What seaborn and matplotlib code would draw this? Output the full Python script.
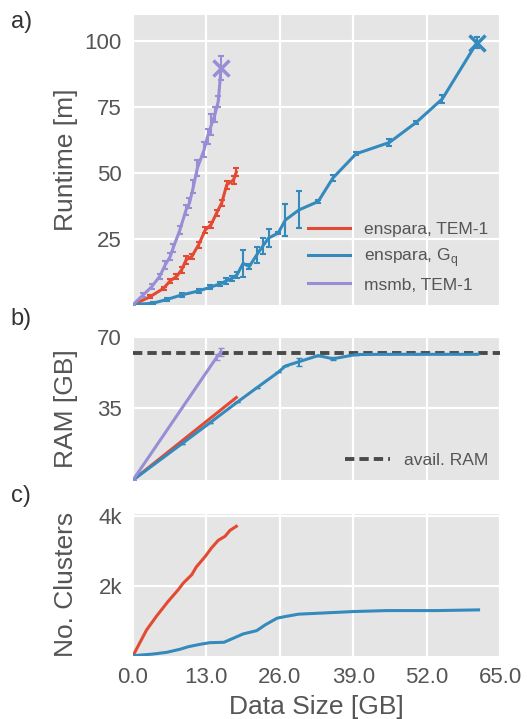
import pandas as pd
import seaborn as sns
import matplotlib.pyplot as plt
from matplotlib.ticker import FuncFormatter

# ---- runtime data (minutes) ----
tem_size = [0.0, 3.0, 5.4, 6.6, 7.7, 8.6, 9.4, 10.4, 11.6, 12.8, 13.8, 14.8, 15.7, 16.6, 17.8, 18.3]
tem_time = [0.0, 3.0, 6.2, 9.1, 10.7, 13.2, 17.0, 18.3, 22.7, 28.4, 30.3, 34.8, 38.6, 45.5, 47.4, 50.4]
tem_err = [0.0, 0.5, 0.6, 0.8, 0.8, 1.0, 1.5, 1.0, 1.2, 1.0, 1.0, 1.2, 1.2, 1.5, 1.5, 1.5]

gq_size = [0.0, 3.6, 6.0, 8.6, 11.6, 13.6, 15.4, 16.5, 17.5, 18.4, 19.5, 20.6, 21.9, 23.0, 24.0,
           25.7, 27.0, 29.4, 32.8, 35.4, 39.5, 45.4, 50.2, 54.8, 60.9]
gq_time = [0.0, 0.6, 2.0, 3.7, 5.2, 6.6, 7.9, 9.0, 10.0, 11.3, 15.7, 14.5, 18.9, 22.3, 25.3,
           27.2, 32.2, 36.0, 39.2, 48.1, 57.3, 61.6, 69.3, 78.2, 99.5]
gq_err = [0.0, 0.3, 0.5, 0.8, 0.8, 0.8, 0.8, 1.0, 1.0, 1.2, 5.0, 1.0, 3.0, 3.0, 3.5,
          0.5, 6.0, 7.0, 0.5, 1.0, 0.5, 1.5, 0.5, 1.5, 2.0]

msmb_size = [0.0, 1.8, 3.3, 4.7, 5.7, 6.6, 7.1, 8.3, 9.4, 10.0, 10.7, 11.4, 12.6, 13.2, 13.9,
             14.5, 15.1, 15.6]
msmb_time = [0.0, 3.7, 6.8, 10.7, 15.1, 18.3, 21.5, 28.4, 36.0, 38.6, 44.9, 51.9, 58.9, 63.9,
             68.4, 72.2, 77.2, 90.0]
msmb_err = [0.0, 0.8, 1.0, 1.0, 1.5, 1.5, 1.5, 1.5, 2.0, 2.0, 2.5, 3.0, 3.0, 3.0, 4.0,
            3.0, 2.0, 4.5]

# ---- RAM (GB) ----
tem_ram_size = [0.0, 9.4, 18.3]
tem_ram = [0.0, 20.7, 40.3]

gq_ram_size = [0.0, 8.6, 13.6, 18.4, 21.9, 25.7, 27.0, 29.4, 32.8, 35.4, 39.5, 45.4, 50.2, 54.8, 60.9]
gq_ram = [0.0, 17.6, 27.9, 37.9, 45.0, 52.6, 55.7, 57.8, 60.8, 59.2, 61.3, 61.4, 61.4, 61.4, 61.4]
gq_ram_err = [0, 0, 0, 0, 0, 0, 0, 2.0, 0, 0.8, 0, 0, 0, 0, 0]

msmb_ram_size = [0.0, 14.8, 15.6]
msmb_ram = [0.0, 59.9, 62.6]
msmb_ram_err = [0.0, 1.5, 2.0]

avail_ram = 62.0

# ---- number of clusters ----
tem_clu_size = [0.0, 2.4, 4.2, 6.2, 8.0, 8.9, 10.4, 11.2, 12.8, 13.9, 15.1, 16.3, 17.2, 18.3]
tem_clu = [0, 737, 1139, 1550, 1885, 2077, 2316, 2536, 2841, 3082, 3300, 3415, 3587, 3701]

gq_clu_size = [0.0, 3.6, 6.0, 8.3, 9.8, 11.9, 13.6, 16.1, 18.4, 19.5, 21.9, 23.4, 25.5, 26.9,
               29.3, 39.0, 44.9, 53.8, 61.2]
gq_clu = [0, 49, 98, 184, 258, 327, 373, 384, 545, 623, 717, 881, 1073, 1119,
          1188, 1263, 1291, 1291, 1311]

red = "#E24A33"
blue = "#348ABD"
purple = "#988ED5"
grey = "#555555"

plt.style.use("ggplot")
plt.rcParams["font.family"] = ["Liberation Sans", "DejaVu Sans"]
plt.rcParams["axes.grid"] = True
plt.rcParams["grid.linewidth"] = 1.6
plt.rcParams["grid.color"] = "white"

fig = plt.figure(figsize=(5.27, 7.19), dpi=100)
left, width = 0.2524, 0.6964
ax1 = fig.add_axes([left, 0.5762, width, 0.4029])
ax2 = fig.add_axes([left, 0.3324, width, 0.1993])
ax3 = fig.add_axes([left, 0.0880, width, 0.1970])

# a) runtime
for xs, ys, es, c, lab in [(tem_size, tem_time, tem_err, red, "enspara, TEM-1"),
                           (gq_size, gq_time, gq_err, blue, "enspara, G$_\\mathregular{q}$"),
                           (msmb_size, msmb_time, msmb_err, purple, "msmb, TEM-1")]:
    df = pd.DataFrame({"size": xs, "time": ys})
    sns.lineplot(data=df, x="size", y="time", ax=ax1, color=c, lw=2.2, label=lab)
    ax1.errorbar(xs, ys, yerr=es, fmt="none", ecolor=c, elinewidth=1.5, capsize=2.5, capthick=1.5)
# crashed runs marked with an x
ax1.plot(msmb_size[-1], msmb_time[-1], marker="x", ms=11, mew=2.5, color=purple)
ax1.plot(gq_size[-1], gq_time[-1], marker="x", ms=11, mew=2.5, color=blue)

ax1.set_ylim(0, 110)
ax1.set_yticks([25, 50, 75, 100])
ax1.set_ylabel("Runtime [m]")
leg = ax1.legend(loc="lower right", frameon=False, fontsize=12.5, handlelength=2.4,
                 labelspacing=0.5, borderaxespad=0.3)
for t in leg.get_texts():
    t.set_color(grey)

# b) RAM
ax2.axhline(avail_ram, color="#4a4a4a", ls="--", lw=2.8, dashes=(2.4, 1.3), label="avail. RAM", zorder=1)
sns.lineplot(x=tem_ram_size, y=tem_ram, ax=ax2, color=red, lw=2.2)
sns.lineplot(x=gq_ram_size, y=gq_ram, ax=ax2, color=blue, lw=2.2)
sns.lineplot(x=msmb_ram_size, y=msmb_ram, ax=ax2, color=purple, lw=2.2)
ax2.errorbar(gq_ram_size, gq_ram, yerr=gq_ram_err, fmt="none", ecolor=blue, elinewidth=1.5, capsize=2.5)
ax2.errorbar(msmb_ram_size, msmb_ram, yerr=msmb_ram_err, fmt="none", ecolor=purple, elinewidth=1.5, capsize=2.5)
ax2.set_ylim(0, 70)
ax2.set_yticks([35, 70])
ax2.set_ylabel("RAM [GB]")
leg2 = ax2.legend(loc="lower right", frameon=False, fontsize=12.5, handlelength=2.6, borderaxespad=0.3)
for t in leg2.get_texts():
    t.set_color(grey)

# c) clusters
sns.lineplot(x=tem_clu_size, y=tem_clu, ax=ax3, color=red, lw=2.2)
sns.lineplot(x=gq_clu_size, y=gq_clu, ax=ax3, color=blue, lw=2.2)
ax3.set_ylim(0, 4050)
ax3.set_yticks([2000, 4000])
ax3.yaxis.set_major_formatter(FuncFormatter(lambda v, p: "%dk" % (v / 1000)))
ax3.set_ylabel("No. Clusters")
ax3.set_xlabel("Data Size [GB]", fontsize=19, color=grey, labelpad=5)

for ax in (ax1, ax2, ax3):
    ax.set_facecolor("#E5E5E5")
    ax.set_xlim(0, 65)
    ax.set_xticks([0, 13, 26, 39, 52, 65])
    ax.tick_params(labelsize=16, colors=grey, length=0, pad=8)
    ax.yaxis.label.set_size(19)
    ax.yaxis.label.set_color(grey)
    ax.yaxis.set_label_coords(-0.15, 0.5)
    ax.grid(True, color="white", lw=1.6)
    for s in ax.spines.values():
        s.set_visible(False)
for ax in (ax1, ax2):
    ax.set_xlabel("")
    ax.tick_params(labelbottom=False)
ax3.xaxis.set_major_formatter(FuncFormatter(lambda v, p: "%.1f" % v))

for lab, y in [("a)", 0.985), ("b)", 0.572), ("c)", 0.325)]:
    fig.text(0.02, y, lab, fontsize=17, color="#333333", va="top", ha="left")

fig.savefig("out.png", dpi=100)
